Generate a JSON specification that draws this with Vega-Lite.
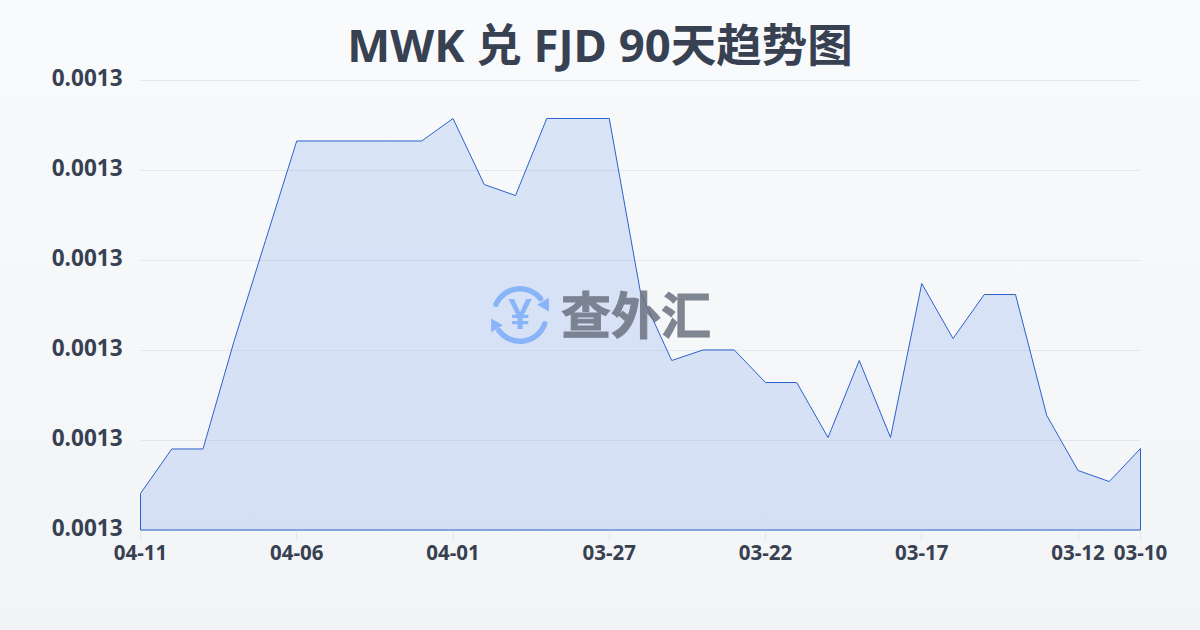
{
"$schema":"https://vega.github.io/schema/vega-lite/v6.json",
"width":1200,"height":630,"autosize":"none","padding":0,
"background":"#f6f7f9",
"config":{"view":{"stroke":null,"fill":{"x1":0,"y1":0,"x2":0,"y2":1,"gradient":"linear","stops":[{"offset":0,"color":"#f8fafc"},{"offset":1,"color":"#f3f4f6"}]}},"font":"Noto Sans"},
"title":{"text":"MWK 兑 FJD 90天趋势图","font":"Noto Sans, Noto Sans CJK SC","fontSize":45.5,"fontWeight":"bold","color":"#374151","anchor":"middle","frame":"group","baseline":"middle","offset":-93,"orient":"top"},
"datasets":{"rates":[
{"date":"04-11","rate":0.00126411},{"date":"04-10","rate":0.00126906},{"date":"04-09","rate":0.00126906},{"date":"04-08","rate":0.00128111},{"date":"04-07","rate":0.00129222},{"date":"04-06","rate":0.00130328},{"date":"04-05","rate":0.00130328},{"date":"04-04","rate":0.00130328},{"date":"04-03","rate":0.00130328},{"date":"04-02","rate":0.00130328},{"date":"04-01","rate":0.00130578},{"date":"03-31","rate":0.00129844},{"date":"03-30","rate":0.00129722},{"date":"03-29","rate":0.00130578},{"date":"03-28","rate":0.00130578},{"date":"03-27","rate":0.00130578},{"date":"03-26","rate":0.00128644},{"date":"03-25","rate":0.00127889},{"date":"03-24","rate":0.00128006},{"date":"03-23","rate":0.00128006},{"date":"03-22","rate":0.00127644},{"date":"03-21","rate":0.00127644},{"date":"03-20","rate":0.00127033},{"date":"03-19","rate":0.00127889},{"date":"03-18","rate":0.00127033},{"date":"03-17","rate":0.00128744},{"date":"03-16","rate":0.00128133},{"date":"03-15","rate":0.00128622},{"date":"03-14","rate":0.00128622},{"date":"03-13","rate":0.00127278},{"date":"03-12","rate":0.00126667},{"date":"03-11","rate":0.00126544},{"date":"03-10","rate":0.00126911}]},
"encoding":{
"x":{"field":"date","type":"ordinal","title":null,"sort":null,
"scale":{"type":"point","padding":0,"range":[140,1140],"domain":["04-11","04-10","04-09","04-08","04-07","04-06","04-05","04-04","04-03","04-02","04-01","03-31","03-30","03-29","03-28","03-27","03-26","03-25","03-24","03-23","03-22","03-21","03-20","03-19","03-18","03-17","03-16","03-15","03-14","03-13","03-12","03-11","03-10"]},
"axis":{"values":["04-11","04-06","04-01","03-27","03-22","03-17","03-12","03-10"],"orient":"bottom","offset":-100,"domain":false,"grid":false,"ticks":true,"tickColor":"#e5e7eb","tickSize":10,"labelAngle":0,"labelFont":"Open Sans","labelFontSize":20.5,"labelFontWeight":"bold","labelColor":"#374151","labelPadding":3,"labelOverlap":false,"labelFlush":false}},
"y":{"field":"rate","type":"quantitative","title":null,
"scale":{"domain":[0.00126,0.00131],"range":[530,80],"zero":false,"nice":false},
"axis":{"values":[0.00126,0.00127,0.00128,0.00129,0.0013,0.00131],"format":".4f","orient":"left","offset":-140,"domain":false,"ticks":false,"grid":true,"gridColor":"#e5e7eb","gridWidth":1,"labelFont":"Open Sans","labelFontSize":22.5,"labelFontWeight":"bold","labelColor":"#374151","labelPadding":18,"labelOffset":-2}}
},
"layer":[
{"data":{"name":"rates"},"mark":{"type":"area","fill":"#3f78e8","fillOpacity":0.16,"stroke":"#2b62cc","strokeWidth":1,"interpolate":"linear","xOffset":0.5,"yOffset":0.5},"encoding":{"y2":{"datum":0.00126}}},
{"data":{"values":[{"date":"03-30","rate":0.00128389,"start":-1.25,"end":1.0}]},"mark":{"type":"arc","radius":29,"radius2":23.5,"cornerRadius":2.5,"fill":"#8ab4f8","xOffset":5},"encoding":{"theta":{"field":"start","type":"quantitative","scale":null,"stack":null},"theta2":{"field":"end"}}},
{"data":{"values":[{"date":"03-30","rate":0.00128389,"start":1.81,"end":4.17}]},"mark":{"type":"arc","radius":29,"radius2":23.5,"cornerRadius":2.5,"fill":"#8ab4f8","xOffset":5},"encoding":{"theta":{"field":"start","type":"quantitative","scale":null,"stack":null},"theta2":{"field":"end"}}},
{"data":{"values":[{"date":"03-29","rate":0.00128485,"turn":-30}]},"mark":{"type":"point","shape":"triangle-down","filled":true,"size":185,"fill":"#8ab4f8","opacity":1,"xOffset":-0.35},"encoding":{"angle":{"field":"turn","type":"quantitative","scale":null}}},
{"data":{"values":[{"date":"03-31","rate":0.00128293,"turn":150}]},"mark":{"type":"point","shape":"triangle-down","filled":true,"size":185,"fill":"#8ab4f8","opacity":1,"xOffset":10.35},"encoding":{"angle":{"field":"turn","type":"quantitative","scale":null}}},
{"data":{"values":[{"date":"03-30","rate":0.00128389,"label":"¥"}]},"mark":{"type":"text","font":"Noto Sans","fontWeight":600,"fontSize":42,"fill":"#8ab4f8","dx":5,"dy":1,"baseline":"middle","align":"center"},"encoding":{"text":{"field":"label"}}},
{"data":{"values":[{"date":"03-26","rate":0.00128389,"label":"查外汇"}]},"mark":{"type":"text","font":"Noto Sans CJK SC","fontWeight":"bold","fontSize":50,"fill":"#6b7280","stroke":"#6b7280","strokeWidth":1,"opacity":0.85,"dx":-4,"dy":4,"baseline":"middle","align":"center"},"encoding":{"text":{"field":"label"}}}
]
}
